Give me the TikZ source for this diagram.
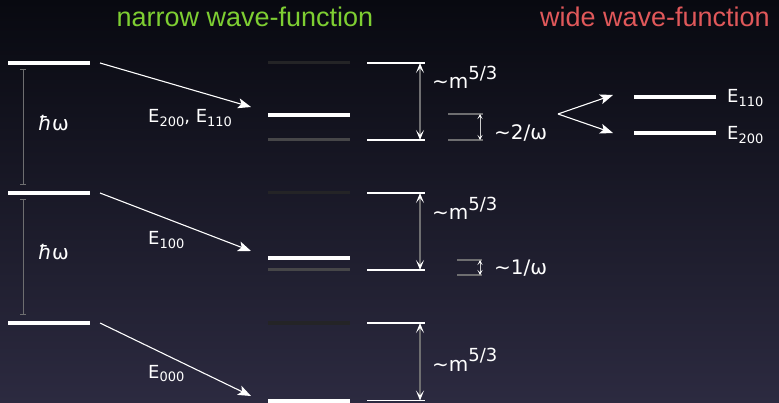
\documentclass[tikz,border=0pt]{standalone}
\usepackage{fontspec}
\setmainfont{DejaVu Sans}
\newfontfamily\titlefont{Liberation Sans}
\usepackage{xcolor}
\usepackage{tikz}
\usetikzlibrary{arrows.meta}

\definecolor{bgtop}{RGB}{8,9,16}
\definecolor{bgbot}{RGB}{44,42,64}
\definecolor{narrowgreen}{RGB}{126,206,50}
\definecolor{widered}{RGB}{224,88,90}
\definecolor{darklevel}{RGB}{36,36,38}
\definecolor{greylevel}{RGB}{70,70,72}
\definecolor{gapgrey}{RGB}{110,110,112}

\newcommand{\lvlsub}[1]{\raisebox{-0.35ex}{\fontsize{13}{13}\selectfont #1}}
\newcommand{\lvlsup}[1]{\raisebox{0.9ex}{\fontsize{18}{18}\selectfont #1}}

\tikzset{
  level/.style={line width=4pt, white},
  reflevel/.style={line width=1.2pt, white},
  splitlevel/.style={line width=1.4pt, gapgrey},
  levelshift/.style={white, line width=1.1pt, -{Stealth[length=13pt, width=10pt, inset=3pt]}},
  gap/.style={gapgrey, line width=1.2pt, {Stealth[white, length=10pt, width=8pt, inset=5pt]}-{Stealth[white, length=10pt, width=8pt, inset=5pt]}},
  smallgap/.style={white!80!black, line width=0.8pt, {Stealth[white, length=5pt, width=5pt, inset=2.5pt]}-{Stealth[white, length=5pt, width=5pt, inset=2.5pt]}},
  hbargap/.style={gapgrey, line width=1pt, {Bar[width=6pt]}-{Bar[width=6pt]}},
  lbl/.style={white, anchor=base west, inner sep=0pt, font=\fontsize{18}{20}\selectfont},
  biglbl/.style={white, anchor=base west, inner sep=0pt, font=\fontsize{20}{22}\selectfont},
  title/.style={anchor=base, inner sep=0pt, font=\titlefont\fontsize{27}{30}\selectfont}
}

\begin{document}
\begin{tikzpicture}[x=1pt, y=-1pt]
    % background
    \shade[top color=bgtop, bottom color=bgbot] (0,0) rectangle (779,403);
    \useasboundingbox (0,0) rectangle (779,403);

    % titles
    \node[title, narrowgreen] (narrowtitle) at (245,27) {narrow wave-function};
    \node[title, widered] (widetitle) at (655,27) {wide wave-function};

    % oscillator levels
    \foreach \y/\n in {63/2, 193/1, 323/0} {
        \draw[level] (8,\y) -- (90,\y);
        \coordinate (osc\n) at (100,\y);
    }
    \coordinate (hbarA) at (23,69);
    \coordinate (hbarB) at (23,185);
    \coordinate (hbarC) at (23,199);
    \coordinate (hbarD) at (23,315);
    \draw[hbargap] (hbarA) -- (hbarB);
    \draw[hbargap] (hbarC) -- (hbarD);
    \node[biglbl] (hw1) at (38,131) {\textit{ħ}ω};
    \node[biglbl] (hw2) at (38,260) {\textit{ħ}ω};

    % narrow levels
    \foreach \y/\c in {63/darklevel, 140/greylevel, 193/darklevel, 270/greylevel, 323/darklevel}
        \draw[line width=3pt, \c] (268,\y) -- (350,\y);
    \foreach \y in {115, 258, 400.5}
        \draw[level] (268,\y) -- (350,\y);

    % shifts
    \coordinate (nar2) at (251,107);
    \coordinate (nar1) at (251,251);
    \coordinate (nar0) at (251,396);
    \foreach \n in {2,1,0}
        \draw[levelshift] (osc\n) -- (nar\n);
    \node[lbl] (e200) at (148,123) {E\lvlsub{200}, E\lvlsub{110}};
    \node[lbl] (e100) at (148,245) {E\lvlsub{100}};
    \node[lbl] (e000) at (148,378) {E\lvlsub{000}};

    % level spacing ~m^{5/3}
    \foreach \ya/\yb/\yl/\n in {63/140/89/a, 193/270/220/b, 323/400.5/371/c} {
        \draw[reflevel] (367,\ya) -- (425,\ya);
        \draw[reflevel] (367,\yb) -- (425,\yb);
        \coordinate (top\n) at (420,\ya);
        \coordinate (bot\n) at (420,\yb);
        \draw[gap] (top\n) -- (bot\n);
        \node[biglbl] (mass\n) at (432,\yl) {∼m\lvlsup{5/3}};
    }

    % splittings
    \draw[splitlevel] (448,114) -- (483,114);
    \draw[splitlevel] (448,140) -- (483,140);
    \coordinate (splitAtop) at (480,114);
    \coordinate (splitAbot) at (480,140);
    \draw[smallgap] (splitAtop) -- (splitAbot);
    \node[biglbl] (split2) at (494,140) {∼2/ω};

    \draw[splitlevel] (457,260) -- (482,260);
    \draw[splitlevel] (457,275) -- (482,275);
    \coordinate (splitBtop) at (480,260);
    \coordinate (splitBbot) at (480,275);
    \draw[smallgap] (splitBtop) -- (splitBbot);
    \node[biglbl] (split1) at (494,275) {∼1/ω};

    % wide levels
    \coordinate (fork) at (558,114);
    \coordinate (wide110) at (613,95);
    \coordinate (wide200) at (613,133);
    \draw[levelshift] (fork) -- (wide110);
    \draw[levelshift] (fork) -- (wide200);
    \draw[level] (634,97) -- (716,97);
    \draw[level] (634,133) -- (716,133);
    \node[lbl] (e110w) at (727,103) {E\lvlsub{110}};
    \node[lbl] (e200w) at (727,140) {E\lvlsub{200}};
\end{tikzpicture}
\end{document}
